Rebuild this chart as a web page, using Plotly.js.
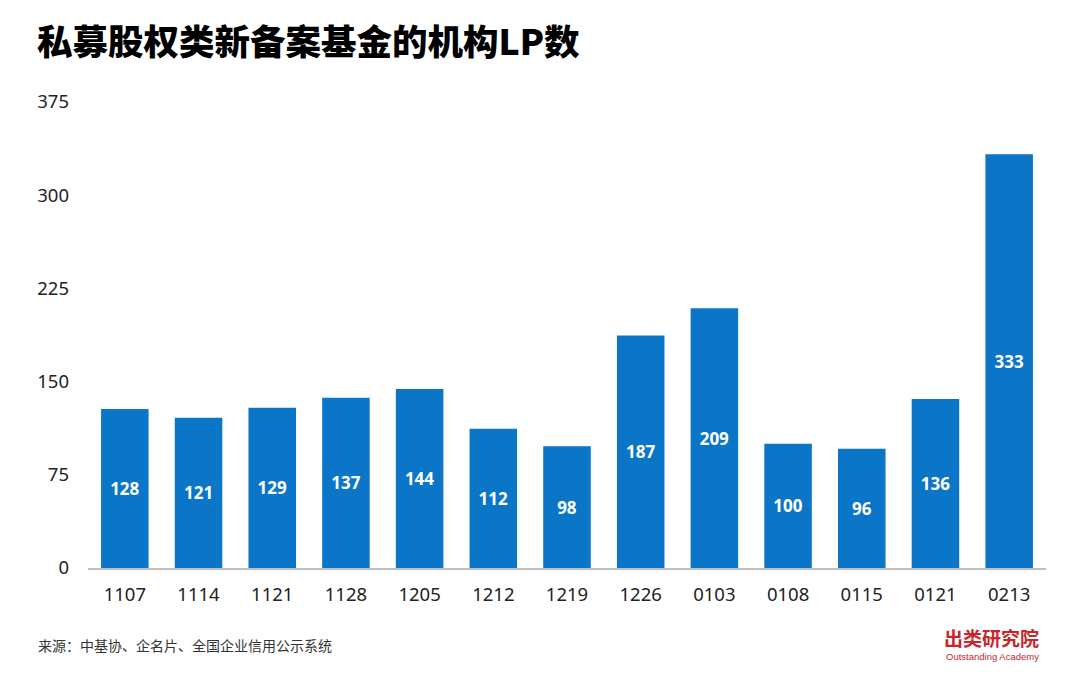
<!DOCTYPE html>
<html>
<head>
<meta charset="utf-8">
<script src="https://cdn.plot.ly/plotly-3.0.1.min.js"></script>
<style>
html,body{margin:0;padding:0;background:#fff;}
#chart{width:1080px;height:675px;}
</style>
</head>
<body>
<div id="chart"></div>
<script>
const categories = ["1107","1114","1121","1128","1205","1212","1219","1226","0103","0108","0115","0121","0213"];
const lpCounts = [128,121,129,137,144,112,98,187,209,100,96,136,333];
const yTicks = [0,75,150,225,300,375];

const trace = {
  type: 'bar',
  x: categories,
  y: lpCounts,
  marker: {color: '#0B76C8'},
  text: lpCounts.map(String),
  textposition: 'inside',
  insidetextanchor: 'middle',
  textangle: 0,
  textfont: {family: '"Open Sans", "Noto Sans", sans-serif', size: 17, color: '#ffffff', weight: 'bold'},
  hoverinfo: 'skip'
};

const layout = {
  width: 1080, height: 675,
  margin: {l: 88, r: 34, t: 102, b: 107},
  paper_bgcolor: '#ffffff', plot_bgcolor: '#ffffff',
  bargap: 0.355,
  showlegend: false,
  xaxis: {
    type: 'category',
    showline: true, linecolor: '#BFBFBF', linewidth: 1.5,
    showgrid: false, zeroline: false,
    ticks: '', ticklabelstandoff: 9,
    tickfont: {family: '"Noto Sans", "Open Sans", sans-serif', size: 18.5, color: '#222222'}
  },
  yaxis: {
    range: [0, 375], tickvals: yTicks, ticktext: yTicks.map(String),
    showline: false, showgrid: false, zeroline: false,
    ticks: '', ticklabelstandoff: 18,
    tickfont: {family: '"Noto Sans", "Open Sans", sans-serif', size: 18.5, color: '#222222'}
  },
  annotations: [
    {text: '私募股权类新备案基金的机构LP数', showarrow: false, xanchor: 'left', yanchor: 'middle',
     font: {family: '"Noto Sans CJK SC", sans-serif', size: 35.5, color: '#000000', weight: 900}},
    {text: '来源：中基协、企名片、全国企业信用公示系统', showarrow: false, xanchor: 'left', yanchor: 'middle',
     font: {family: '"Noto Sans CJK SC", sans-serif', size: 14, color: '#333333'}},
    {text: '出类研究院', showarrow: false, xanchor: 'right', yanchor: 'middle',
     font: {family: '"Noto Sans CJK SC", sans-serif', size: 19, color: '#C8262B', weight: 'bold'}},
    {text: 'Outstanding Academy', showarrow: false, xanchor: 'right', yanchor: 'middle',
     font: {family: '"Liberation Sans", Arial, sans-serif', size: 9.5, color: '#C8262B'}}
  ]
};

const pw = 1080 - 88 - 34, ph = 675 - 102 - 107;
function px(x){ return (x - 88) / pw; }
function py(y){ return (675 - 107 - y) / ph; }
const pos = [[35, 39], [36, 645], [1041, 637], [1041, 656]];
layout.annotations.forEach((a, i) => {
  a.xref = 'paper'; a.yref = 'paper';
  a.x = px(pos[i][0]); a.y = py(pos[i][1]);
});

Plotly.newPlot('chart', [trace], layout, {displayModeBar: false, staticPlot: true});
</script>
</body>
</html>
